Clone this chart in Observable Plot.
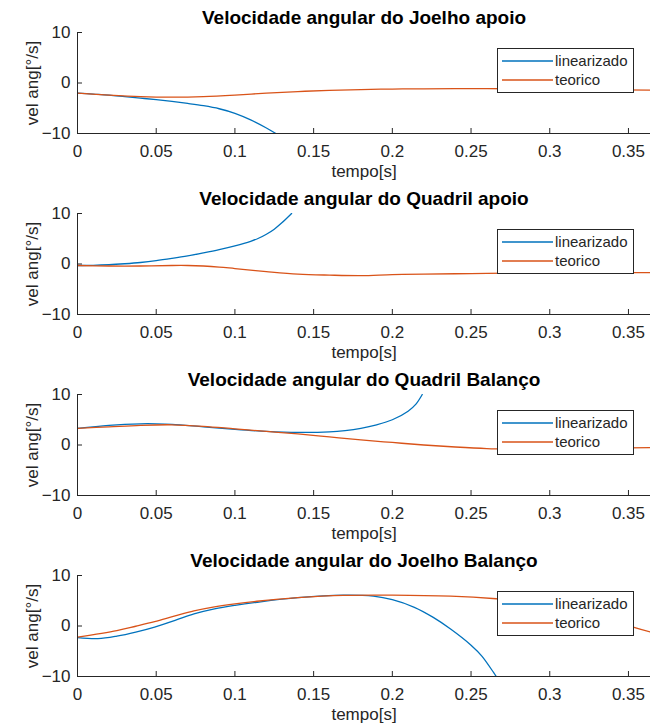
<!DOCTYPE html>
<html><head><meta charset="utf-8">
<script src="https://cdn.jsdelivr.net/npm/d3@7"></script>
<script src="https://cdn.jsdelivr.net/npm/@observablehq/plot@0.6"></script>
<style>
body{margin:0;background:#fff;}
#c{width:660px;}
#c svg{display:block;}
</style></head><body><div id="c"></div>
<script>
const xTickValues = [0,0.05,0.1,0.15,0.2,0.25,0.3,0.35];
const xTickLabels = ["0","0.05","0.1","0.15","0.2","0.25","0.3","0.35"];
const yTickValues = [-10,0,10];
const xDomain = [0,0.364];
const yDomain = [-10,10];
const seriesNames = ["linearizado","teorico"];
const seriesColors = ["#0072BD","#D95319"];
const panelTitles = [
  "Velocidade angular do Joelho apoio",
  "Velocidade angular do Quadril apoio",
  "Velocidade angular do Quadril Balanço",
  "Velocidade angular do Joelho Balanço"
];
const xLabel = "tempo[s]";
const yLabel = "vel ang[°/s]";

// Panel 1: Joelho apoio
const t1Lin = [0,0.01,0.02,0.03,0.04,0.05,0.06,0.07,0.08,0.09,0.1,0.11,0.12,0.126];
const v1Lin = [-2.0,-2.2,-2.4,-2.7,-3.0,-3.3,-3.65,-4.05,-4.5,-5.1,-6.0,-7.3,-8.9,-10];
const t1Teo = [0,0.02,0.04,0.06,0.08,0.1,0.12,0.14,0.16,0.18,0.2,0.22,0.25,0.28,0.3,0.33,0.364];
const v1Teo = [-2.0,-2.4,-2.7,-2.8,-2.7,-2.4,-2.0,-1.7,-1.45,-1.3,-1.2,-1.15,-1.1,-1.15,-1.2,-1.3,-1.4];

// Panel 2: Quadril apoio
const t2Lin = [0,0.01,0.02,0.03,0.04,0.05,0.06,0.07,0.08,0.09,0.1,0.11,0.115,0.12,0.125,0.13,0.136];
const v2Lin = [-0.3,-0.27,-0.15,0.05,0.3,0.65,1.1,1.6,2.2,2.85,3.6,4.5,5.1,5.9,6.9,8.2,10];
const t2Teo = [0,0.02,0.04,0.06,0.07,0.08,0.09,0.1,0.12,0.14,0.16,0.18,0.2,0.22,0.25,0.28,0.3,0.33,0.364];
const v2Teo = [-0.3,-0.4,-0.4,-0.3,-0.3,-0.4,-0.6,-0.9,-1.5,-2.0,-2.2,-2.3,-2.1,-2.0,-1.9,-1.8,-1.7,-1.7,-1.7];

// Panel 3: Quadril Balanço
const t3Lin = [0,0.02,0.04,0.05,0.06,0.08,0.1,0.12,0.14,0.16,0.17,0.18,0.19,0.2,0.21,0.215,0.219];
const v3Lin = [3.3,3.9,4.2,4.2,4.1,3.6,3.1,2.7,2.5,2.6,2.85,3.3,4.0,5.0,6.7,8.1,10];
const t3Teo = [0,0.02,0.04,0.06,0.08,0.1,0.12,0.14,0.16,0.18,0.2,0.22,0.24,0.26,0.28,0.3,0.32,0.34,0.364];
const v3Teo = [3.3,3.6,3.9,4.0,3.7,3.2,2.7,2.2,1.6,1.0,0.5,0.0,-0.4,-0.7,-0.8,-0.8,-0.7,-0.6,-0.5];

// Panel 4: Joelho Balanço
const t4Lin = [0,0.013,0.025,0.037,0.049,0.062,0.074,0.087,0.1,0.114,0.14,0.169,0.188,0.2,0.214,0.226,0.237,0.25,0.257,0.2645,0.266];
const v4Lin = [-2.3,-2.5,-2.0,-1.2,-0.2,1.1,2.4,3.4,4.1,4.7,5.6,6.1,5.9,5.2,3.7,1.7,-0.6,-3.8,-6.0,-9.3,-10];
const t4Teo = [0,0.025,0.037,0.049,0.062,0.074,0.087,0.1,0.114,0.14,0.169,0.2,0.237,0.266,0.28,0.3,0.32,0.34,0.353,0.364];
const v4Teo = [-2.2,-0.9,-0.05,0.85,2.0,3.0,3.8,4.4,4.9,5.6,6.05,6.1,5.9,5.4,5.0,4.0,2.7,1.0,-0.2,-1.2];

const panels = [
  [t1Lin, v1Lin, t1Teo, v1Teo],
  [t2Lin, v2Lin, t2Teo, v2Teo],
  [t3Lin, v3Lin, t3Teo, v3Teo],
  [t4Lin, v4Lin, t4Teo, v4Teo]
];

const FONT = "'Liberation Sans', Arial, Helvetica, sans-serif";
const AX = "#262626";
const W = 660, H = 181, mL = 77, mR = 10, mT = 32, mB = 48;
const fw = W - mL - mR, fh = H - mT - mB;

function makePanel(title, tl, vl, tt, vt) {
  const rows = [
    ...tl.map((t, i) => ({t, v: vl[i], s: seriesNames[0]})),
    ...tt.map((t, i) => ({t, v: vt[i], s: seriesNames[1]}))
  ];
  const svg = Plot.plot({
    width: W, height: H,
    marginLeft: mL, marginRight: mR, marginTop: mT, marginBottom: mB,
    style: {fontFamily: FONT, fontSize: "17px", color: AX, background: "white", overflow: "visible"},
    x: {domain: xDomain},
    y: {domain: yDomain},
    color: {domain: seriesNames, range: seriesColors},
    marks: [
      Plot.axisX(xTickValues, {tickSize: 0, tickPadding: 11, tickFormat: d => xTickLabels[xTickValues.indexOf(d)], label: null, fill: AX}),
      Plot.axisY(yTickValues, {tickSize: 0, tickPadding: 7, label: null, fill: AX}),
      Plot.tickX(xTickValues, {x: d => d, insetTop: fh - 5, stroke: AX}),
      Plot.tickY(yTickValues, {y: d => d, insetRight: fw - 5, stroke: AX}),
      Plot.line(rows, {x: "t", y: "v", z: "s", stroke: "s", strokeWidth: 1.3, curve: "catmull-rom", clip: true}),
      Plot.ruleY([yDomain[0]], {stroke: AX}),
      Plot.ruleX([xDomain[0]], {stroke: AX}),
      Plot.text([title], {frameAnchor: "top", lineAnchor: "middle", dy: -15, text: d => d, fontWeight: "bold", fontSize: 19, fill: "#000"}),
      Plot.text([xLabel], {frameAnchor: "bottom", lineAnchor: "middle", dy: 38, text: d => d, fill: AX}),
      Plot.text([yLabel], {frameAnchor: "left", lineAnchor: "middle", textAnchor: "middle", dx: -45, rotate: -90, text: d => d, fill: AX})
    ]
  });
  // legend box (MATLAB style, upper right inside the axes)
  const g = d3.select(svg).append("g").attr("font-family", FONT).attr("font-size", 15).attr("text-anchor", "start");
  const lx = mL + 420, ly = mT + 16, lw = 136, lh = 44;
  g.append("rect").attr("x", lx + 0.5).attr("y", ly + 0.5).attr("width", lw).attr("height", lh)
    .attr("fill", "white").attr("stroke", AX).attr("stroke-width", 1);
  seriesNames.forEach((n, i) => {
    const yy = ly + 13 + i * 19;
    g.append("line").attr("x1", lx + 5).attr("x2", lx + 56).attr("y1", yy).attr("y2", yy)
      .attr("stroke", seriesColors[i]).attr("stroke-width", 1.3);
    g.append("text").attr("x", lx + 58).attr("y", yy).attr("dy", "0.35em").attr("fill", AX).text(n);
  });
  return svg;
}

const c = document.getElementById("c");
panels.forEach((p, i) => c.appendChild(makePanel(panelTitles[i], ...p)));
</script>
</body></html>
